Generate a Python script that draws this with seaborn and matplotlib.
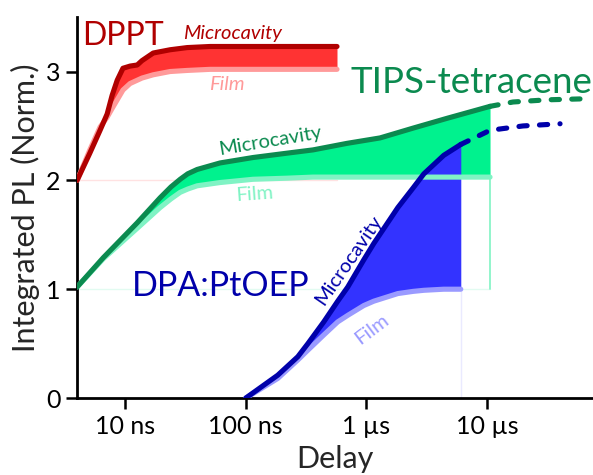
import numpy as np
import pandas as pd
import matplotlib
matplotlib.use("Agg")
import matplotlib.pyplot as plt
import seaborn as sns

# ---------------- data (delay in ns, integrated PL normalised + offset) ----------------
dppt_t = [4.0, 5.1, 6.2, 7.1, 7.8, 8.6, 9.6, 11.0, 12.6, 13.8, 17.1, 23.6, 32.7, 50.6, 570]
dppt_mc = [2.0, 2.25, 2.46, 2.61, 2.78, 2.92, 3.03, 3.05, 3.06, 3.10, 3.17, 3.20, 3.22, 3.23, 3.23]
dppt_film = [2.0, 2.28, 2.49, 2.58, 2.66, 2.74, 2.83, 2.89, 2.92, 2.94, 2.97, 3.0, 3.01, 3.02, 3.02]

tips_t = [4.0, 6.6, 12.6, 19.5, 24.0, 28.6, 33.0, 39.5, 61.2, 115, 220, 361, 690, 1297, 2434, 4650, 10570]
tips_mc = [1.02, 1.29, 1.61, 1.84, 1.94, 2.01, 2.06, 2.10, 2.16, 2.21, 2.25, 2.28, 2.34, 2.39, 2.48, 2.57, 2.68]
tips_film = [1.02, 1.28, 1.56, 1.75, 1.83, 1.89, 1.92, 1.95, 1.98, 2.01, 2.02, 2.03, 2.03, 2.03, 2.03, 2.03, 2.03]
tips_ext_t = [10570, 16400, 31400, 67300]
tips_ext = [2.68, 2.72, 2.74, 2.75]

dpa_t = [100, 184, 270, 327, 443, 578, 700, 950, 1150, 1820, 2434, 2990, 4370, 6050]
dpa_mc = [0.0, 0.21, 0.38, 0.50, 0.70, 0.89, 1.02, 1.27, 1.42, 1.75, 1.93, 2.06, 2.23, 2.33]
dpa_film = [0.0, 0.18, 0.35, 0.44, 0.58, 0.70, 0.76, 0.85, 0.89, 0.96, 0.98, 0.99, 1.0, 1.0]
dpa_ext_t = [6050, 10570, 19800, 40200]
dpa_ext = [2.33, 2.46, 2.50, 2.52]

xticks = [10, 100, 1000, 10000]
xticklabels = ["10 ns", "100 ns", "1 µs", "10 µs"]
yticks = [0, 1, 2, 3]

# ---------------- style ----------------
sns.set_style("ticks")
plt.rcParams["font.family"] = ["Lato", "DejaVu Sans"]

fig = plt.figure(figsize=(5.93, 4.75), dpi=100)
ax = fig.add_axes([0.130, 0.162, 0.870, 0.802])
ax.set_xscale("log")

LW = 3.7
systems = [
    dict(t=dppt_t, mc=dppt_mc, film=dppt_film, base=2.0,
         line="#b00000", fill="#ff3333", flm="#ff9a9a", faint="#ffe2e2"),
    dict(t=tips_t, mc=tips_mc, film=tips_film, base=1.0,
         line="#0b8a4f", fill="#00f28e", flm="#80f3c4", faint="#e2fbf1"),
    dict(t=dpa_t, mc=dpa_mc, film=dpa_film, base=0.0,
         line="#0000aa", fill="#3333ff", flm="#9a9aff", faint="#eaeaff"),
]

for s in systems:
    t = s["t"]
    ax.plot([t[0], t[-1]], [s["base"], s["base"]], color=s["faint"], lw=1, zorder=1)
    ax.fill_between(t, s["film"], s["mc"], color=s["fill"], lw=0, zorder=2)
    sns.lineplot(x=t, y=s["film"], ax=ax, color=s["flm"], linewidth=LW,
                 estimator=None, sort=False, zorder=3, solid_capstyle="round",
                 solid_joinstyle="round")
    sns.lineplot(x=t, y=s["mc"], ax=ax, color=s["line"], linewidth=LW,
                 estimator=None, sort=False, zorder=4, solid_capstyle="round",
                 solid_joinstyle="round")

# vertical end edges
ax.plot([tips_t[-1], tips_t[-1]], [1.0, tips_film[-1]], color="#80f3c4", lw=1.2, zorder=1)
ax.plot([dpa_t[-1], dpa_t[-1]], [0.0, dpa_film[-1]], color="#eaeaff", lw=1, zorder=1)

# dashed extrapolations
for xt, yv, c in [(tips_ext_t, tips_ext, "#0b8a4f"), (dpa_ext_t, dpa_ext, "#0000aa")]:
    sns.lineplot(x=xt, y=yv, ax=ax, color=c, linewidth=LW,
                 estimator=None, sort=False, linestyle=(0, (1.6, 2.4)),
                 dash_capstyle="round", zorder=4)

# ---------------- labels ----------------
ax.text(4.4, 3.24, "DPPT", color="#b00000", fontsize=23, ha="left", va="baseline")
ax.text(77, 3.30, "Microcavity", color="#b00000", fontsize=14.5, style="italic",
        ha="center", va="baseline")
ax.text(69, 2.83, "Film", color="#ff9a9a", fontsize=14.5, style="italic",
        ha="center", va="baseline")

ax.text(731, 2.80, "TIPS-tetracene", color="#0b8a4f", fontsize=26.5, ha="left", va="baseline")
ax.text(159, 2.36, "Microcavity", color="#0b8a4f", fontsize=14.5, rotation=9.5,
        ha="center", va="center", rotation_mode="anchor")
ax.text(119, 1.87, "Film", color="#80f3c4", fontsize=14.5, rotation=4,
        ha="center", va="center", rotation_mode="anchor")

ax.text(11.4, 0.94, "DPA:PtOEP", color="#0000aa", fontsize=24.5, ha="left", va="baseline")
ax.text(718, 1.27, "Microcavity", color="#0000aa", fontsize=14.5, rotation=55.5,
        ha="center", va="center", rotation_mode="anchor")
ax.text(1111, 0.63, "Film", color="#9a9aff", fontsize=14.5, rotation=37,
        ha="center", va="center", rotation_mode="anchor")

# ---------------- axes ----------------
ax.set_xlim(4.0, 75400)
ax.set_ylim(0, 3.5)
ax.set_xticks(xticks)
ax.set_xticklabels(xticklabels)
ax.minorticks_off()
ax.set_yticks(yticks)
ax.tick_params(axis="both", labelsize=18, length=8, width=1.8, direction="out",
               color="black", labelcolor="black", pad=4)
ax.set_xlabel("Delay", fontsize=22, labelpad=5)
ax.set_ylabel("Integrated PL (Norm.)", fontsize=22, labelpad=4)
for side in ["top", "right"]:
    ax.spines[side].set_visible(False)
for side in ["left", "bottom"]:
    ax.spines[side].set_linewidth(2)
    ax.spines[side].set_color("black")

fig.savefig("out.png", dpi=100)
